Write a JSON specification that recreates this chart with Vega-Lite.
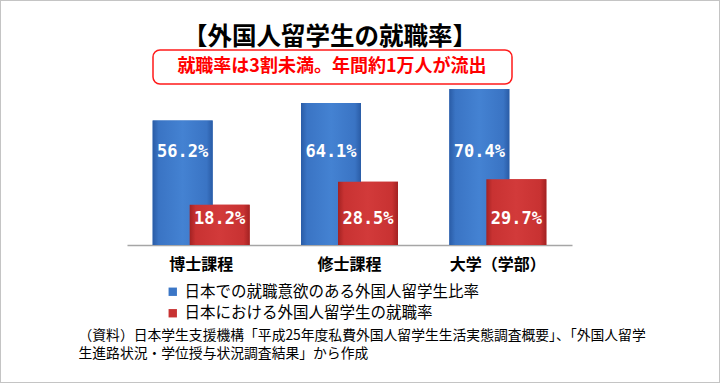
{
  "$schema": "https://vega.github.io/schema/vega-lite/v6.json",
  "width": 720,
  "height": 383,
  "autosize": "none",
  "padding": 0,
  "background": "white",
  "config": {
    "view": {"stroke": "#c4c4c4", "strokeWidth": 2},
    "font": "Noto Sans CJK JP"
  },
  "title": {
    "text": "【外国人留学生の就職率】",
    "font": "Noto Sans CJK JP",
    "fontSize": 24.5,
    "fontWeight": "bold",
    "color": "#000000",
    "anchor": "middle",
    "frame": "group",
    "dx": -30,
    "offset": -50
  },
  "data": {
    "values": [
      {"course": "博士課程", "series": "日本での就職意欲のある外国人留学生比率", "rate": 0.562},
      {"course": "修士課程", "series": "日本での就職意欲のある外国人留学生比率", "rate": 0.641},
      {"course": "大学（学部）", "series": "日本での就職意欲のある外国人留学生比率", "rate": 0.704},
      {"course": "博士課程", "series": "日本における外国人留学生の就職率", "rate": 0.182},
      {"course": "修士課程", "series": "日本における外国人留学生の就職率", "rate": 0.285},
      {"course": "大学（学部）", "series": "日本における外国人留学生の就職率", "rate": 0.297}
    ]
  },
  "layer": [
    {
      "transform": [{"filter": "datum.series === '日本での就職意欲のある外国人留学生比率'"}],
      "mark": {"type": "bar", "width": 60, "xOffset": -18.5},
      "encoding": {
        "x": {
          "field": "course",
          "type": "nominal",
          "sort": ["博士課程", "修士課程", "大学（学部）"],
          "scale": {"range": [127, 572], "paddingInner": 0, "paddingOuter": 0},
          "axis": {
            "bandPosition": 0.5,
            "labelFlush": false,
            "labelBound": false,
            "labelAlign": "center",
            "labelBaseline": "top",
            "title": ["（資料）日本学生支援機構「平成25年度私費外国人留学生生活実態調査概要」、「外国人留学", "生進路状況・学位授与状況調査結果」から作成"],
            "titleX": 78,
            "titleY": 83,
            "titleAlign": "left",
            "titleBaseline": "top",
            "titleFont": "Noto Sans CJK JP",
            "titleFontSize": 13.8,
            "titleFontWeight": "normal",
            "titleLineHeight": 18,
            "titleColor": "#000000",
            "offset": -138,
            "ticks": false,
            "labelAngle": 0,
            "labelPadding": 11,
            "labelFont": "Noto Sans CJK JP",
            "labelFontSize": 16,
            "labelFontWeight": "bold",
            "labelColor": "#000000",
            "domainColor": "#a6a6a6",
            "domainWidth": 1.5
          }
        },
        "y": {"field": "rate", "type": "quantitative", "scale": {"domain": [0, 1.105], "range": [245, 0], "nice": false, "zero": true}, "axis": null},
        "color": {
          "field": "series",
          "type": "nominal",
          "scale": {
            "domain": ["日本での就職意欲のある外国人留学生比率", "日本における外国人留学生の就職率"],
            "range": ["#3b76c6", "#c83232"]
          },
          "legend": {
            "orient": "none",
            "legendX": 165,
            "legendY": 284,
            "title": null,
            "symbolType": "square",
            "symbolSize": 70,
            "symbolStrokeWidth": 0,
            "symbolOpacity": 1,
            "labelFont": "Noto Sans CJK JP",
            "labelFontSize": 15.5,
            "labelColor": "#000000",
            "labelLimit": 500,
            "labelOffset": 4,
            "rowPadding": 4.5,
            "padding": 0
          }
        }
      }
    },
    {
      "data": {"values": [{}]},
      "mark": {"type": "rect", "fill": "white", "stroke": "#ff1a1a", "strokeWidth": 1.5, "cornerRadius": 7, "xOffset": 26, "x2Offset": -60},
      "encoding": {
        "x": {"datum": "博士課程", "type": "nominal", "bandPosition": 0},
        "x2": {"datum": "大学（学部）", "bandPosition": 1},
        "y": {"datum": 0.726, "type": "quantitative", "axis": null},
        "y2": {"datum": 0.88}
      }
    },
    {
      "data": {"values": [{}]},
      "mark": {"type": "text", "text": "就職率は3割未満。年間約1万人が流出", "color": "#ff0000", "font": "Noto Sans CJK JP", "fontSize": 18, "fontWeight": "bold", "xOffset": -17.5, "baseline": "middle"},
      "encoding": {
        "x": {"datum": "修士課程", "type": "nominal"},
        "y": {"datum": 0.803, "type": "quantitative", "axis": null}
      }
    },
    {
      "transform": [{"filter": "datum.series === '日本における外国人留学生の就職率'"}],
      "mark": {"type": "bar", "width": 60, "xOffset": 18.5},
      "encoding": {
        "x": {"field": "course", "type": "nominal", "sort": ["博士課程", "修士課程", "大学（学部）"]},
        "y": {"field": "rate", "type": "quantitative", "axis": null},
        "color": {"field": "series", "type": "nominal"}
      }
    },
    {
      "transform": [{"filter": "datum.series === '日本での就職意欲のある外国人留学生比率'"}],
      "mark": {"type": "bar", "width": 60, "xOffset": -18.5, "color": {"gradient": "linear", "x1": 0, "y1": 0, "x2": 1, "y2": 0, "stops": [
        {"offset": 0, "color": "#2a5ca6"},
        {"offset": 0.1, "color": "#3a74c4"},
        {"offset": 0.5, "color": "#4482d2"},
        {"offset": 0.9, "color": "#3a74c4"},
        {"offset": 1, "color": "#2a5ca6"}
      ]}},
      "encoding": {
        "x": {"field": "course", "type": "nominal", "sort": ["博士課程", "修士課程", "大学（学部）"]},
        "y": {"field": "rate", "type": "quantitative", "axis": null}
      }
    },
    {
      "transform": [{"filter": "datum.series === '日本における外国人留学生の就職率'"}],
      "mark": {"type": "bar", "width": 60, "xOffset": 18.5, "color": {"gradient": "linear", "x1": 0, "y1": 0, "x2": 1, "y2": 0, "stops": [
        {"offset": 0, "color": "#a32222"},
        {"offset": 0.1, "color": "#c83232"},
        {"offset": 0.5, "color": "#d23a3a"},
        {"offset": 0.9, "color": "#c83232"},
        {"offset": 1, "color": "#a32222"}
      ]}},
      "encoding": {
        "x": {"field": "course", "type": "nominal", "sort": ["博士課程", "修士課程", "大学（学部）"]},
        "y": {"field": "rate", "type": "quantitative", "axis": null}
      }
    },
    {
      "transform": [{"filter": "datum.series === '日本での就職意欲のある外国人留学生比率'"}],
      "mark": {"type": "text", "color": "white", "font": "DejaVu Sans Mono", "fontSize": 17, "fontWeight": "bold", "xOffset": -18.5, "baseline": "middle"},
      "encoding": {
        "x": {"field": "course", "type": "nominal", "sort": ["博士課程", "修士課程", "大学（学部）"]},
        "y": {"datum": 0.42, "type": "quantitative", "axis": null},
        "text": {"field": "rate", "type": "quantitative", "format": ".1%"}
      }
    },
    {
      "transform": [{"filter": "datum.series === '日本における外国人留学生の就職率'"}],
      "mark": {"type": "text", "color": "white", "font": "DejaVu Sans Mono", "fontSize": 17, "fontWeight": "bold", "xOffset": 18.5, "baseline": "middle"},
      "encoding": {
        "x": {"field": "course", "type": "nominal", "sort": ["博士課程", "修士課程", "大学（学部）"]},
        "y": {"datum": 0.117, "type": "quantitative", "axis": null},
        "text": {"field": "rate", "type": "quantitative", "format": ".1%"}
      }
    }
  ]
}
